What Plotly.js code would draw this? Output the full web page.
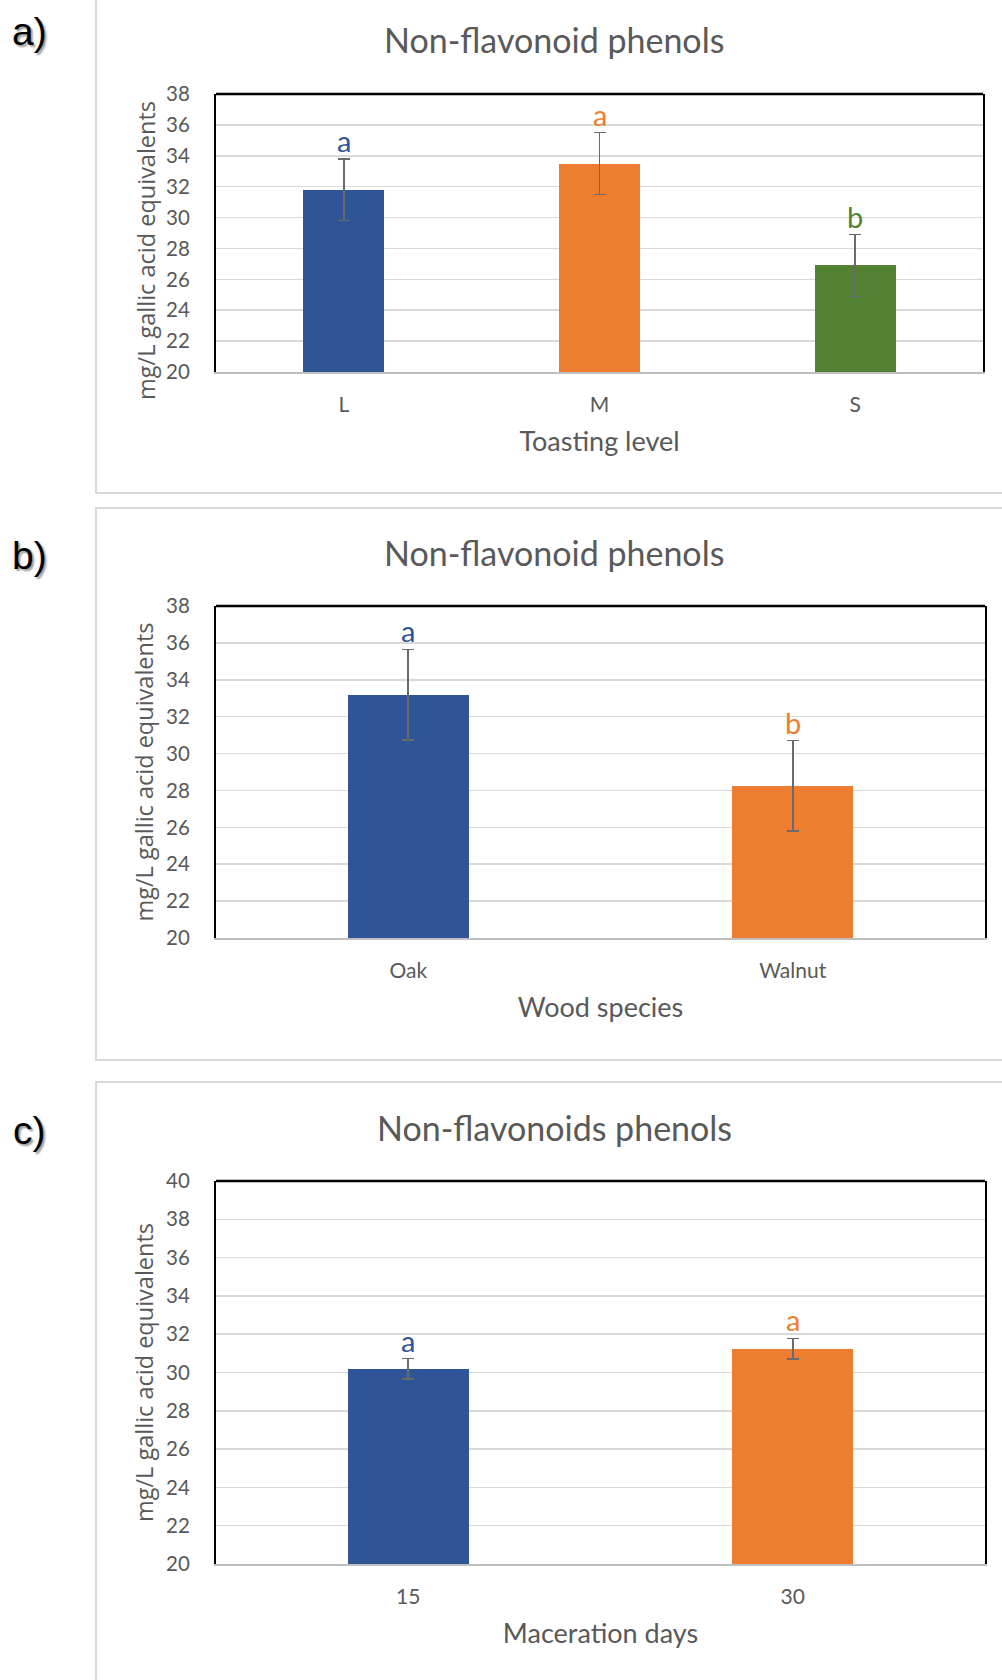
<!DOCTYPE html>
<html>
<head>
<meta charset="utf-8">
<script src="https://cdn.plot.ly/plotly-3.0.1.min.js"></script>
<style>
  html, body { margin: 0; padding: 0; background: #ffffff; }
  #chart { width: 1002px; height: 1680px; }
</style>
</head>
<body>
<div id="chart"></div>
<script>
// ---- Data ----
const catsA = ['L', 'M', 'S'];
const valsA = [31.8, 33.5, 26.9];
const errA = [2.0, 2.0, 2.0];
const lettersA = ['a', 'a', 'b'];

const catsB = ['Oak', 'Walnut'];
const valsB = [33.2, 28.25];
const errB = [2.45, 2.45];
const lettersB = ['a', 'b'];

const catsC = ['15', '30'];
const valsC = [30.2, 31.25];
const errC = [0.53, 0.53];
const lettersC = ['a', 'a'];

const panelTitles = ['Non-flavonoid phenols', 'Non-flavonoid phenols', 'Non-flavonoids phenols'];
const xTitles = ['Toasting level', 'Wood species', 'Maceration days'];
const yTitle = 'mg/L gallic acid equivalents';
const panelLabels = ['a)', 'b)', 'c)'];

// ---- Styles ----
const BLUE = '#2F5597', ORANGE = '#ED7D31', GREEN = '#548235';
const colorsA = [BLUE, ORANGE, GREEN];
const colorsB = [BLUE, ORANGE];
const colorsC = [BLUE, ORANGE];
const GRAY = '#595959';
const FONT = 'Lato, "Open Sans", sans-serif';
const YFONT = { family: '"Open Sans", sans-serif', size: 23.5, color: GRAY };

const W = 1002, H = 1680;
const px = v => v / W;
const py = v => 1 - v / H;

function barTrace(cats, vals, errs, colors, xa, ya, w) {
  return {
    type: 'bar', x: cats, y: vals, xaxis: xa, yaxis: ya,
    marker: { color: colors, line: { width: 0 } },
    width: w,
    error_y: { type: 'data', array: errs, visible: true, color: '#6a6a6a', thickness: 1.6, width: 6 },
    hoverinfo: 'skip', showlegend: false
  };
}

const data = [
  barTrace(catsA, valsA, errA, colorsA, 'x', 'y', 0.317),
  barTrace(catsB, valsB, errB, colorsB, 'x2', 'y2', 0.315),
  barTrace(catsC, valsC, errC, colorsC, 'x3', 'y3', 0.315)
];

function xAxis(dom, anchor, title, n) {
  return {
    domain: dom, anchor: anchor, type: 'category',
    categoryorder: 'trace',
    range: [-0.5, n - 0.5],
    showline: true, linecolor: '#bfbfbf', linewidth: 2, mirror: false,
    ticks: '', showgrid: false, zeroline: false, tickangle: 0,
    tickfont: { family: FONT, size: 21, color: GRAY },
    ticklabelstandoff: 13,
    title: { text: title, font: { family: FONT, size: 27, color: GRAY }, standoff: 17 },
    fixedrange: true
  };
}
function yAxis(dom, anchor, range, titleText) {
  return {
    domain: dom, anchor: anchor, range: range, dtick: 2,
    showline: true, linecolor: '#000000', linewidth: 2, mirror: true,
    ticks: '', showgrid: true, gridcolor: '#d9d9d9', gridwidth: 1.6, zeroline: false,
    tickfont: { family: FONT, size: 20.5, color: GRAY },
    ticklabelstandoff: 20,
    title: { text: titleText, font: YFONT, standoff: 6 },
    fixedrange: true
  };
}

const layout = {
  width: W, height: H,
  margin: { l: 0, r: 0, t: 0, b: 0 },
  paper_bgcolor: '#ffffff', plot_bgcolor: '#ffffff',
  showlegend: false,
  bargap: 0,
  xaxis: xAxis([px(216), px(983)], 'y', xTitles[0], catsA.length),
  yaxis: yAxis([py(372), py(94)], 'x', [20, 38], ''),
  xaxis2: xAxis([px(216), px(985)], 'y2', xTitles[1], catsB.length),
  yaxis2: yAxis([py(938), py(606)], 'x2', [20, 38], yTitle),
  xaxis3: xAxis([px(216), px(985)], 'y3', xTitles[2], catsC.length),
  yaxis3: yAxis([py(1564), py(1181)], 'x3', [20, 40], yTitle),
  shapes: [],
  annotations: []
};

// Panel a y-axis title (sits lower than the plot centre in the original)
layout.annotations.push({
  text: yTitle, xref: 'paper', yref: 'paper', x: px(146), y: py(251),
  xanchor: 'center', yanchor: 'middle', textangle: -90, showarrow: false,
  font: YFONT
});

// Panel frames (light gray boxes)
const frames = [[-20, 493], [508, 1060], [1082, 1720]];
frames.forEach(f => {
  layout.shapes.push({
    type: 'rect', xref: 'paper', yref: 'paper',
    x0: px(96), x1: 1.02, y0: py(f[1]), y1: py(f[0]),
    line: { color: '#d9d9d9', width: 2 }, fillcolor: 'rgba(0,0,0,0)', layer: 'below'
  });
});
// Black top border of each plot area
[['x', 'y'], ['x2', 'y2'], ['x3', 'y3']].forEach(([xa, ya]) => {
  layout.shapes.push({
    type: 'line', xref: xa + ' domain', yref: ya + ' domain',
    x0: 0, x1: 1, y0: 1, y1: 1,
    line: { color: '#000000', width: 2.5 }, layer: 'above'
  });
});

// Panel titles
const titleY = [39, 553, 1127];
panelTitles.forEach((t, i) => {
  layout.annotations.push({
    text: t, xref: 'paper', yref: 'paper', x: px(554), y: py(titleY[i]),
    xanchor: 'center', yanchor: 'middle', showarrow: false,
    font: { family: FONT, size: 34, color: GRAY }
  });
});
// Panel letters a) b) c)
const labelY = [31, 556, 1130];
panelLabels.forEach((t, i) => {
  layout.annotations.push({
    text: t, xref: 'paper', yref: 'paper', x: px(29), y: py(labelY[i]),
    xanchor: 'center', yanchor: 'middle', showarrow: false,
    font: { family: '"Liberation Sans", Arial, sans-serif', size: 39, color: '#000000', shadow: '2px 2px 2px #9a9a9a' }
  });
});
// Significance letters (x given as category index)
function addLetters(cats, vals, errs, letters, colors, xa, ya) {
  cats.forEach((c, i) => {
    layout.annotations.push({
      text: letters[i], xref: xa, yref: ya, x: i, y: vals[i] + errs[i],
      xanchor: 'center', yanchor: 'bottom', showarrow: false, yshift: -1,
      font: { family: FONT, size: 29, color: colors[i] }
    });
  });
}
addLetters(catsA, valsA, errA, lettersA, colorsA, 'x', 'y');
addLetters(catsB, valsB, errB, lettersB, colorsB, 'x2', 'y2');
addLetters(catsC, valsC, errC, lettersC, colorsC, 'x3', 'y3');

Plotly.newPlot('chart', data, layout, { staticPlot: true, displayModeBar: false });
</script>
</body>
</html>
